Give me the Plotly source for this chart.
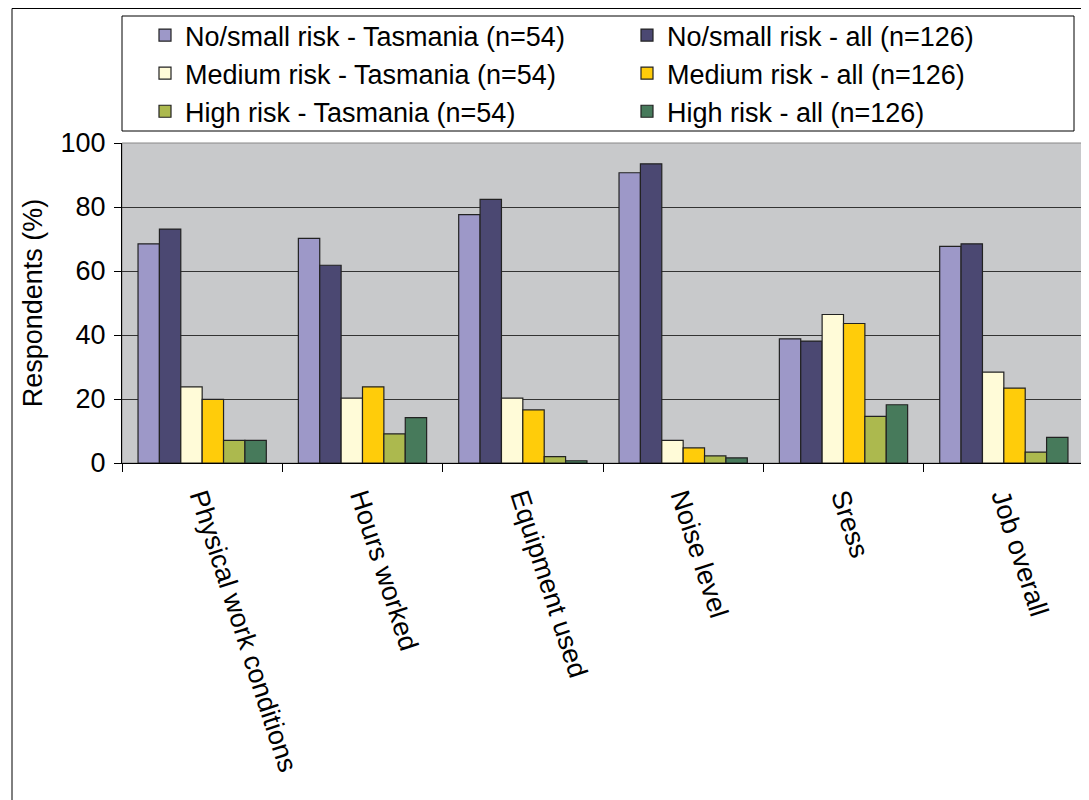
import plotly.graph_objects as go

categories = ["Physical work conditions", "Hours worked", "Equipment used", "Noise level", "Sress", "Job overall"]
series_names = [
    "No/small risk - Tasmania (n=54)",
    "No/small risk - all (n=126)",
    "Medium risk - Tasmania (n=54)",
    "Medium risk - all (n=126)",
    "High risk - Tasmania (n=54)",
    "High risk - all (n=126)",
]
no_small_tas = [68.5, 70.2, 77.6, 90.7, 38.8, 67.7]
no_small_all = [73.1, 61.8, 82.4, 93.5, 38.1, 68.5]
medium_tas = [23.8, 20.3, 20.3, 7.1, 46.4, 28.4]
medium_all = [19.9, 23.8, 16.6, 4.7, 43.6, 23.4]
high_tas = [7.1, 9.1, 2.0, 2.2, 14.6, 3.4]
high_all = [7.1, 14.2, 0.7, 1.6, 18.2, 8.0]
colors = ["#9D98C8", "#4B4872", "#FFFBD8", "#FFCC0A", "#ACB94E", "#477A5B"]
legend_ids = ["legend", "legend2", "legend", "legend2", "legend", "legend2"]

values = [no_small_tas, no_small_all, medium_tas, medium_all, high_tas, high_all]

fig = go.Figure()
for name, vals, col, lg in zip(series_names, values, colors, legend_ids):
    fig.add_trace(go.Bar(
        x=categories, y=vals, name=name, legend=lg,
        marker=dict(color=col, line=dict(color="#222222", width=1.2)),
    ))

W, H = 1089, 800
# page body has 8px margin, so figure coords = screen coords - 8
L, Rr, T, Bb = 114, 1076, 135, 455
pw, ph = Rr - L, Bb - T

def px_x(x):
    return (x - L) / pw

def px_y(y):
    return (Bb - y) / ph

font = "Liberation Sans, Arial, sans-serif"
leg_common = dict(
    orientation="v",
    xanchor="left",
    yanchor="top",
    bgcolor="rgba(0,0,0,0)",
    borderwidth=0,
    font=dict(size=27, family=font),
    traceorder="normal",
)
fig.update_layout(
    width=W, height=H,
    margin=dict(l=L, r=W - Rr, t=T, b=H - Bb, autoexpand=False),
    paper_bgcolor="white",
    plot_bgcolor="#C8C9CB",
    barmode="group",
    bargap=0.2,
    bargroupgap=0,
    font=dict(family=font, size=27, color="black"),
    legend=dict(x=px_x(137), y=px_y(3), **leg_common),
    legend2=dict(x=px_x(619), y=px_y(3), **leg_common),
    xaxis=dict(
        tickangle=72,
        tickson="boundaries",
        ticks="outside",
        ticklen=8,
        tickcolor="black",
        showline=True,
        linecolor="black",
        linewidth=1,
        tickfont=dict(size=27),
        ticklabelstandoff=7,
        automargin=False,
    ),
    yaxis=dict(
        range=[0, 100],
        tickvals=[0, 20, 40, 60, 80, 100],
        ticks="outside",
        ticklen=7,
        tickcolor="black",
        showline=True,
        linecolor="black",
        gridcolor="#333333",
        gridwidth=1,
        zeroline=False,
        tickfont=dict(size=27),
        ticklabelstandoff=3,
        automargin=False,
        title=dict(text="Respondents (%)", font=dict(size=27), standoff=10),
    ),
    shapes=[
        dict(type="rect", xref="paper", yref="paper",
             x0=px_x(4), x1=px_x(1095), y0=px_y(805), y1=px_y(0.5),
             line=dict(color="black", width=1), layer="below"),
        dict(type="rect", xref="paper", yref="paper",
             x0=px_x(114), x1=px_x(1066), y0=px_y(123), y1=px_y(8),
             line=dict(color="black", width=1), fillcolor="white", layer="below"),
        dict(type="rect", xref="paper", yref="paper",
             x0=0, x1=1, y0=0, y1=1,
             line=dict(color="#888888", width=1), layer="below"),
    ],
)

fig.write_html("out.html")
